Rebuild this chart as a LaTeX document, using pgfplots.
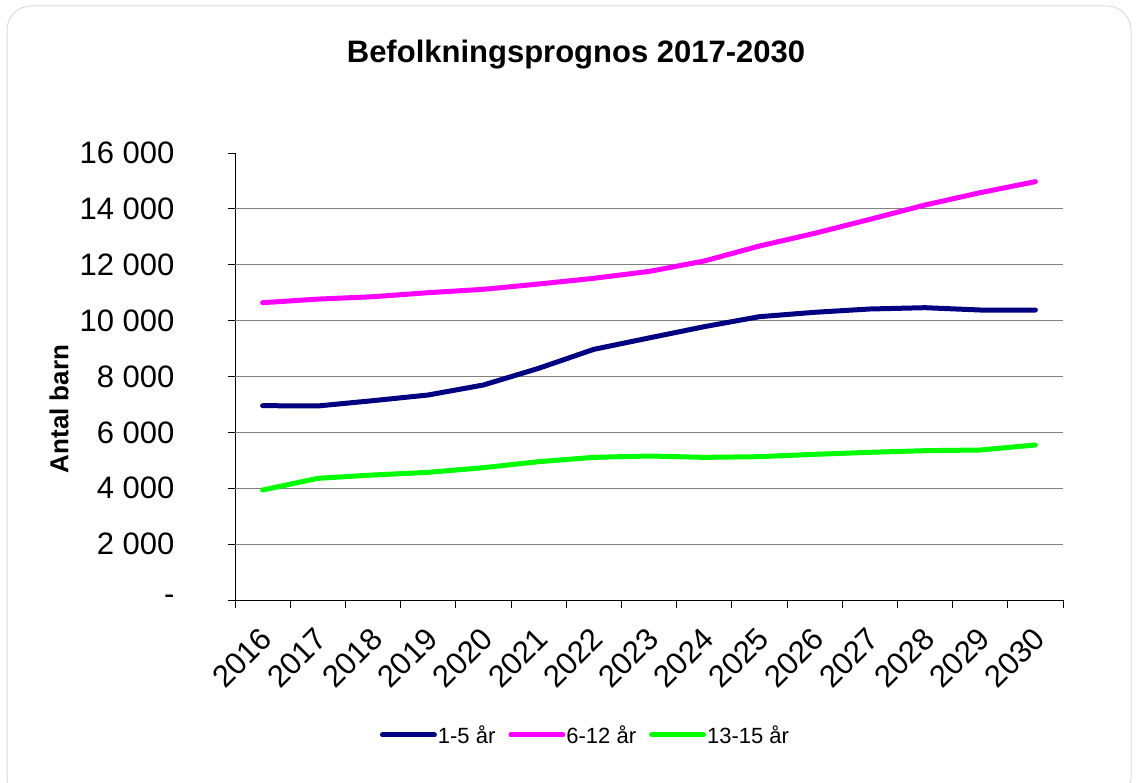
\documentclass[border=0pt]{standalone}
\usepackage{pgfplots}
\pgfplotsset{compat=1.18}
\usepackage{fontspec}
\setmainfont{Liberation Sans}

\definecolor{navyline}{HTML}{000080}
\definecolor{pinkline}{HTML}{FF00FF}
\definecolor{greenline}{HTML}{00FF00}
\definecolor{gridgray}{HTML}{808080}
\definecolor{framegray}{HTML}{DCDCDC}

\begin{document}
\begin{tikzpicture}[x=1pt,y=1pt]
\useasboundingbox (0,0) rectangle (1138,782);
\draw[framegray, line width=1pt, rounded corners=24pt] (7,-20) rectangle (1131,776);

\begin{axis}[
  at={(235pt,182pt)}, anchor=south west,
  scale only axis, width=828pt, height=447pt,
  xmin=-0.5, xmax=14.5, ymin=0, ymax=16000,
  scaled y ticks=false,
  axis x line=bottom, axis y line=left,
  axis line style={-, black, line width=1pt},
  xtick={0,...,14},
  xticklabels={2016,2017,2018,2019,2020,2021,2022,2023,2024,2025,2026,2027,2028,2029,2030},
  major x tick style={draw=none},
  minor xtick={-0.5,0.5,...,14.5},
  minor tick length=8pt,
  tick align=outside,
  ytick={0,2000,...,16000},
  yticklabels={-,2 000,4 000,6 000,8 000,10 000,12 000,14 000,16 000},
  major tick length=7pt,
  tick style={black, line width=0.8pt},
  extra y ticks={2000,4000,...,14000},
  extra y tick labels={},
  extra y tick style={grid=major, major tick length=0pt},
  grid style={gridgray, line width=1pt},
  xticklabel style={font=\fontsize{31}{36}\selectfont, rotate=45, anchor=north east, xshift=-12.7pt, yshift=-7pt},
  yticklabel style={font=\fontsize{31}{36}\selectfont, anchor=east, xshift=-50pt},
  legend style={at={(0.4227,-0.302)}, anchor=center, draw=none, fill=none,
    font=\fontsize{22}{26}\selectfont, legend columns=3,
    nodes={inner sep=1pt},
    /tikz/every even column/.append style={column sep=12pt}},
  legend image code/.code={\draw[#1, line width=5pt, line cap=round] (0pt,0pt) -- (52pt,0pt);},
  every axis plot/.append style={line width=5pt, line join=round, line cap=round},
]
\addplot[navyline] coordinates {
(0,6956) (1,6945) (2,7135) (3,7338) (4,7696) (5,8292) (6,8972) (7,9380)
(8,9783) (9,10141) (10,10298) (11,10416) (12,10463) (13,10380) (14,10380)
};
\addplot[pinkline] coordinates {
(0,10642) (1,10770) (2,10856) (3,11000) (4,11120) (5,11310) (6,11515) (7,11760)
(8,12134) (9,12670) (10,13125) (11,13625) (12,14138) (13,14580) (14,14975)
};
\addplot[greenline] coordinates {
(0,3937) (1,4355) (2,4474) (3,4570) (4,4736) (5,4951) (6,5106) (7,5154)
(8,5106) (9,5130) (10,5214) (11,5286) (12,5345) (13,5369) (14,5548)
};
\legend{1-5 år, 6-12 år, 13-15 år}
\end{axis}

\node at (576,727) {\fontsize{31}{36}\selectfont\bfseries Befolkningsprognos 2017-2030};
\node[rotate=90] at (59,373) {\fontsize{26}{31}\selectfont\bfseries Antal barn};
\end{tikzpicture}
\end{document}
